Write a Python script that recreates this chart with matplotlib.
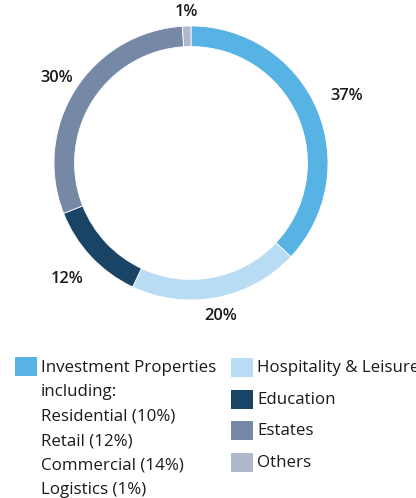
import numpy as np
import matplotlib
matplotlib.use('Agg')
import matplotlib.pyplot as plt
from matplotlib.patches import Rectangle

# portfolio split
labels = ['Investment Properties', 'Hospitality & Leisure', 'Education', 'Estates', 'Others']
shares = [37, 20, 12, 30, 1]
colors = ['#56b3e3', '#b8dcf3', '#1a4466', '#7589a6', '#b0b9cc']
ip_breakdown = ['Residential (10%)', 'Retail (12%)', 'Commercial (14%)', 'Logistics (1%)']

# radial offset of each percentage label (outer radius = 1)
label_dist = [1.24, 1.14, 1.24, 1.16, 1.10]

plt.rcParams['font.family'] = ['Open Sans', 'DejaVu Sans']
W, H = 416, 498
fig = plt.figure(figsize=(W / 100, H / 100), dpi=100)

# donut centred at (191, 163) px, outer radius 137 px
cx, cy, r = 191, 163, 137
ax = fig.add_axes([(cx - r) / W, (H - cy - r) / H, 2 * r / W, 2 * r / H])
wedges, _ = ax.pie(shares, colors=colors, startangle=90, counterclock=False,
                   radius=1.0, wedgeprops=dict(width=0.15, edgecolor='white', linewidth=0.6))
ax.set_xlim(-1, 1)
ax.set_ylim(-1, 1)
ax.set_aspect('equal')
ax.axis('off')

total = sum(shares)
start = 90.0
for v, d in zip(shares, label_dist):
    mid = np.deg2rad(start - v / total * 360 / 2)
    start -= v / total * 360
    ax.text(d * np.cos(mid), d * np.sin(mid), f'{v}%', ha='center', va='center',
            fontsize=11.8, fontweight='semibold', color='#1a1a1a', clip_on=False)

def px(x, y):
    return x / W, 1 - y / H

# legend, left column: investment properties with breakdown
fs = 12.2
sq_w, sq_h = 22, 19
fig.patches.append(Rectangle(px(15, 376), sq_w / W, sq_h / H, transform=fig.transFigure,
                             color=colors[0], lw=0))
left_lines = [labels[0], 'including:'] + ip_breakdown
for i, t in enumerate(left_lines):
    fig.text(*px(41, 368 + i * 24.4), t, ha='left', va='center', fontsize=fs, color='#1a1a1a')

# legend, right column
for i, (lab, col) in enumerate(zip(labels[1:], colors[1:])):
    yc = 368 + i * 31.6
    fig.patches.append(Rectangle(px(231, yc + 9), sq_w / W, sq_h / H, transform=fig.transFigure,
                                 color=col, lw=0))
    fig.text(*px(257, yc), lab, ha='left', va='center', fontsize=fs, color='#1a1a1a')

fig.savefig('out.png', dpi=100)
